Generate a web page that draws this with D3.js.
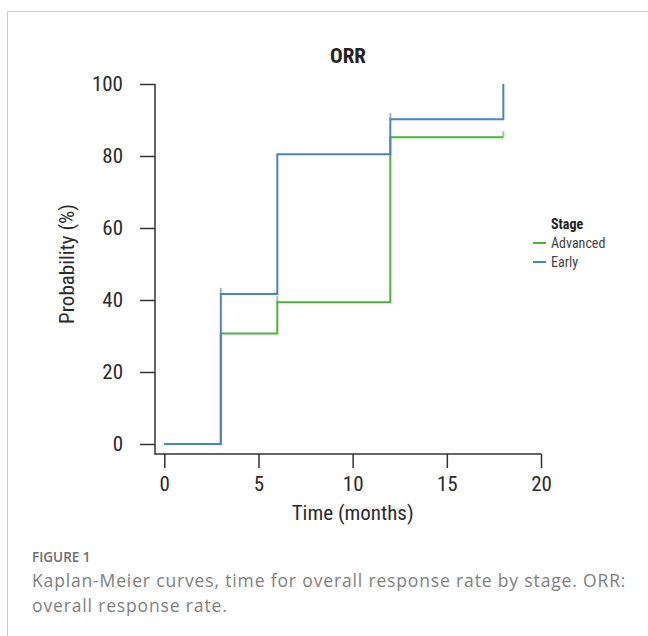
<!DOCTYPE html>
<html>
<head>
<meta charset="utf-8">
<script src="https://cdn.jsdelivr.net/npm/d3@7"></script>
<style>
  body { margin: 0; background: #fff; }
  .narrow { font-family: "Liberation Sans Narrow", "Roboto Condensed", "DejaVu Sans Condensed", Roboto, sans-serif; }
  .caption { font-family: "Open Sans", Lato, sans-serif; }
</style>
</head>
<body>
<div id="chart"></div>
<script>
// Kaplan-Meier steps
var stages = ["Advanced", "Early"];
var stageColors = ["#4cb33a", "#4a84c4"];
var advTimes = [0, 3, 6, 12, 18];
var advProb = [0, 30.7, 39.4, 85.2, 85.2];
var advCensor = [6, 18];
var earlyTimes = [0, 3, 6, 12, 18];
var earlyProb = [0, 41.7, 80.5, 90.2, 100];
var earlyCensor = [3, 12];
var xTicks = [0, 5, 10, 15, 20];
var yTicks = [0, 20, 40, 60, 80, 100];

var width = 648, height = 636;

var svg = d3.select("#chart").append("svg")
    .attr("width", width)
    .attr("height", height);

// card border
svg.append("path")
    .attr("d", "M7.5,636 L7.5,11.5 L648,11.5")
    .style("fill", "none")
    .style("stroke", "#cccccc")
    .style("stroke-width", 1);

var x = d3.scaleLinear().domain([0, 20]).range([164.3, 541]);
var y = d3.scaleLinear().domain([0, 100]).range([444, 84]);

var axisColor = "#333333";
var axisLeft = 155, axisBottom = 454;

// L-shaped axis frame
svg.append("path")
    .attr("d", "M" + axisLeft + "," + y(100) + " L" + axisLeft + "," + axisBottom + " L" + x(20) + "," + axisBottom)
    .style("fill", "none")
    .style("stroke", axisColor)
    .style("stroke-width", 1.5);

var yAxis = svg.append("g")
    .attr("class", "y axis narrow")
    .attr("transform", "translate(" + axisLeft + ",0)")
    .call(d3.axisLeft(y).tickValues(yTicks).tickSize(15).tickPadding(17));
yAxis.select(".domain").remove();
yAxis.selectAll(".tick line").style("stroke", axisColor).style("stroke-width", 1.5);
yAxis.selectAll(".tick text")
    .style("font-size", "21px")
    .style("fill", "#2a2a2a")
    .attr("font-family", null);

var xAxis = svg.append("g")
    .attr("class", "x axis narrow")
    .attr("transform", "translate(0," + axisBottom + ")")
    .call(d3.axisBottom(x).tickValues(xTicks).tickSize(14).tickPadding(8));
xAxis.select(".domain").remove();
xAxis.selectAll(".tick line").style("stroke", axisColor).style("stroke-width", 1.5);
xAxis.selectAll(".tick text")
    .style("font-size", "21px")
    .style("fill", "#2a2a2a")
    .attr("font-family", null);

// titles
svg.append("text")
    .attr("class", "narrow")
    .attr("x", 348)
    .attr("y", 63)
    .style("text-anchor", "middle")
    .style("font-size", "21px")
    .style("font-weight", "bold")
    .style("fill", "#222")
    .text("ORR");

svg.append("text")
    .attr("class", "narrow")
    .attr("x", x(10))
    .attr("y", 520)
    .style("text-anchor", "middle")
    .style("font-size", "21px")
    .style("fill", "#2a2a2a")
    .text("Time (months)");

svg.append("text")
    .attr("class", "narrow")
    .attr("transform", "translate(74," + y(50) + ") rotate(-90)")
    .style("text-anchor", "middle")
    .style("font-size", "21px")
    .style("fill", "#2a2a2a")
    .text("Probability (%)");

// curves
var line = d3.line()
    .x(function(d) { return x(d.t); })
    .y(function(d) { return y(d.p); })
    .curve(d3.curveStepAfter);

var series = [
  {name: stages[0], color: stageColors[0], times: advTimes, prob: advProb, censor: advCensor},
  {name: stages[1], color: stageColors[1], times: earlyTimes, prob: earlyProb, censor: earlyCensor}
];

series.forEach(function(s) {
  var pts = s.times.map(function(t, i) { return {t: t, p: s.prob[i]}; });
  svg.append("path")
      .datum(pts)
      .attr("d", line)
      .style("fill", "none")
      .style("stroke", s.color)
      .style("stroke-width", 2);

  // censor marks
  svg.selectAll(null)
      .data(s.censor)
    .enter().append("line")
      .attr("x1", function(t) { return x(t); })
      .attr("x2", function(t) { return x(t); })
      .attr("y1", function(t) { return y(s.prob[s.times.indexOf(t)]); })
      .attr("y2", function(t) { return y(s.prob[s.times.indexOf(t)]) - 6; })
      .style("stroke", s.color)
      .style("stroke-opacity", 0.6)
      .style("stroke-width", 2);
});

// legend
var legend = svg.append("g")
    .attr("class", "narrow")
    .attr("transform", "translate(533,0)");

legend.append("text")
    .attr("x", 18)
    .attr("y", 229)
    .style("font-size", "14px")
    .style("font-weight", "bold")
    .style("fill", "#222")
    .text("Stage");

var items = legend.selectAll(".item")
    .data(series)
  .enter().append("g")
    .attr("class", "item")
    .attr("transform", function(d, i) { return "translate(0," + (243 + i * 19) + ")"; });

items.append("line")
    .attr("x1", 0).attr("x2", 13)
    .style("stroke", function(d) { return d.color; })
    .style("stroke-width", 2);

items.append("text")
    .attr("x", 18)
    .attr("dy", "0.35em")
    .style("font-size", "14px")
    .style("fill", "#444")
    .text(function(d) { return d.name; });

// caption
svg.append("text")
    .attr("class", "caption")
    .attr("x", 32)
    .attr("y", 562)
    .style("font-size", "13.5px")
    .style("font-weight", "600")
    .style("fill", "#6d6d6d")
    .text("FIGURE 1");

var captionLines = ["Kaplan-Meier curves, time for overall response rate by stage. ORR:", "overall response rate."];
svg.selectAll(".capline")
    .data(captionLines)
  .enter().append("text")
    .attr("class", "caption capline")
    .attr("x", 32)
    .attr("y", function(d, i) { return 587 + i * 25; })
    .style("font-size", "17.5px")
    .style("letter-spacing", "0.85px")
    .style("fill", "#808080")
    .text(function(d) { return d; });
</script>
</body>
</html>
